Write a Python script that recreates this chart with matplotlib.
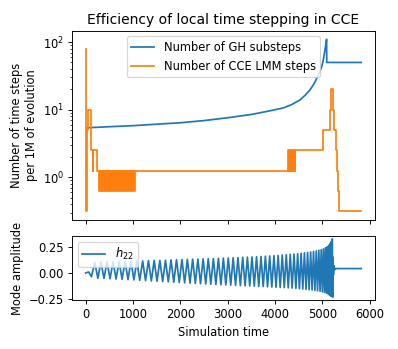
import matplotlib
matplotlib.use("Agg")
import matplotlib.pyplot as plt
import numpy as np

# ---- GH substeps (blue) ----
gh_t = [30, 500, 1000, 1500, 2000, 2500, 3000, 3500, 3820, 4172, 4350, 4524, 4640, 4735, 4820, 4877, 4935, 4982, 5020, 5052, 5072, 5088, 5092, 5820]
gh_v = [5.4, 5.6, 5.8, 6.1, 6.4, 6.9, 7.6, 8.5, 9.4, 10.6, 11.9, 13.9, 16.5, 19.5, 24.0, 28.8, 35.0, 42.6, 55.0, 74.6, 92.0, 110, 50, 50]

# ---- CCE LMM steps (orange), step function ----
lmm_t = [0, 8, 20, 40, 120, 150, 160, 245, 4419, 5004, 5159, 5187, 5229, 5250, 5285, 5313, 5334, 5355, 5814]
lmm_v = [80, 0.3125, 5, 10, 2.5, 1.25, 2.5, 1.25, 2.5, 5, 10, 20, 10, 5, 2.5, 1.25, 0.625, 0.3125, 0.3125]

# rapidly alternating regions (drawn as filled bands)
band_start = [275, 4264]
band_end = [1036, 4419]
band_lo = [0.625, 1.25]
band_hi = [1.25, 2.5]

# ---- h22 waveform extrema ----
h22_t = [0, 60, 120,
         190, 255, 320, 385, 449, 513, 577, 640, 704, 767, 830, 892, 955, 1017, 1079, 1140,
         1202, 1263, 1324, 1385, 1445, 1505, 1565, 1625, 1684, 1743, 1801, 1859, 1917, 1975,
         2032, 2089, 2146, 2202, 2258, 2314, 2369, 2424, 2479, 2534, 2588, 2642, 2696, 2749,
         2802, 2855, 2907, 2959, 3011, 3063, 3114, 3165, 3216, 3266, 3316, 3366, 3415, 3464,
         3512, 3560, 3608, 3655, 3702, 3749, 3795, 3841, 3886, 3931, 3976, 4020, 4064, 4108,
         4151, 4194, 4236, 4278, 4320, 4360, 4400, 4439, 4477, 4514, 4550, 4585, 4620, 4654,
         4687, 4719, 4751, 4782, 4812, 4841, 4870, 4897, 4924, 4950, 4975, 4999, 5022, 5044,
         5065, 5084, 5103, 5120, 5136, 5150, 5164, 5176, 5188, 5198, 5208, 5216, 5224, 5232,
         5242, 5255, 5270, 5820]
h22_v = [0.0, 0.01, -0.035,
         0.100, -0.050, 0.105, -0.052, 0.105, -0.055, 0.108, -0.058, 0.110, -0.060, 0.110, -0.063, 0.112, -0.066, 0.115, -0.070,
         0.115, -0.073, 0.118, -0.076, 0.120, -0.079, 0.120, -0.082, 0.122, -0.085, 0.125, -0.088, 0.127, -0.091,
         0.128, -0.094, 0.130, -0.097, 0.132, -0.100, 0.133, -0.102, 0.135, -0.105, 0.137, -0.107, 0.138, -0.110,
         0.140, -0.112, 0.142, -0.114, 0.143, -0.116, 0.145, -0.118, 0.147, -0.120, 0.149, -0.122, 0.151, -0.124,
         0.153, -0.126, 0.155, -0.128, 0.157, -0.130, 0.160, -0.132, 0.162, -0.134, 0.165, -0.136, 0.168, -0.138,
         0.171, -0.140, 0.174, -0.142, 0.177, -0.144, 0.180, -0.147, 0.184, -0.150, 0.188, -0.153, 0.192, -0.156,
         0.196, -0.159, 0.200, -0.162, 0.205, -0.166, 0.210, -0.170, 0.216, -0.174, 0.222, -0.179, 0.230, -0.185,
         0.240, -0.192, 0.250, -0.200, 0.265, -0.210, 0.280, -0.220, 0.300, -0.220, 0.325, -0.230, 0.150, -0.020,
         0.070, 0.030, 0.042, 0.042]

DPI = 83
fig = plt.figure(figsize=(398 / DPI, 349 / DPI), dpi=DPI)
ax1 = fig.add_axes([72 / 398, 1 - 220 / 349, 303 / 398, 189.3 / 349])
ax2 = fig.add_axes([72 / 398, 1 - 300 / 349, 303 / 398, 64 / 349], sharex=ax1)

ax1.plot(gh_t, gh_v, color="C0", label="Number of GH substeps")
ax1.plot(lmm_t, lmm_v, color="C1", drawstyle="steps-post", label="Number of CCE LMM steps")
for s, e, lo, hi in zip(band_start, band_end, band_lo, band_hi):
    ax1.fill_between([s, e], [lo, lo], [hi, hi], color="C1", lw=1.5, edgecolor="C1")
ax1.set_yscale("log")
ax1.set_ylabel("Number of time steps\nper 1M of evolution")
ax1.set_title("Efficiency of local time stepping in CCE")
ax1.legend(loc="upper center")
ax1.tick_params(labelbottom=False)

ax2.plot(h22_t, h22_v, color="C0", label=r"$h_{22}$")
ax2.set_ylabel("Mode amplitude")
ax2.set_xlabel("Simulation time")
ax2.set_yticks([-0.25, 0.0, 0.25])
ax2.legend(loc="upper left")

fig.savefig("out.png", dpi=DPI)
